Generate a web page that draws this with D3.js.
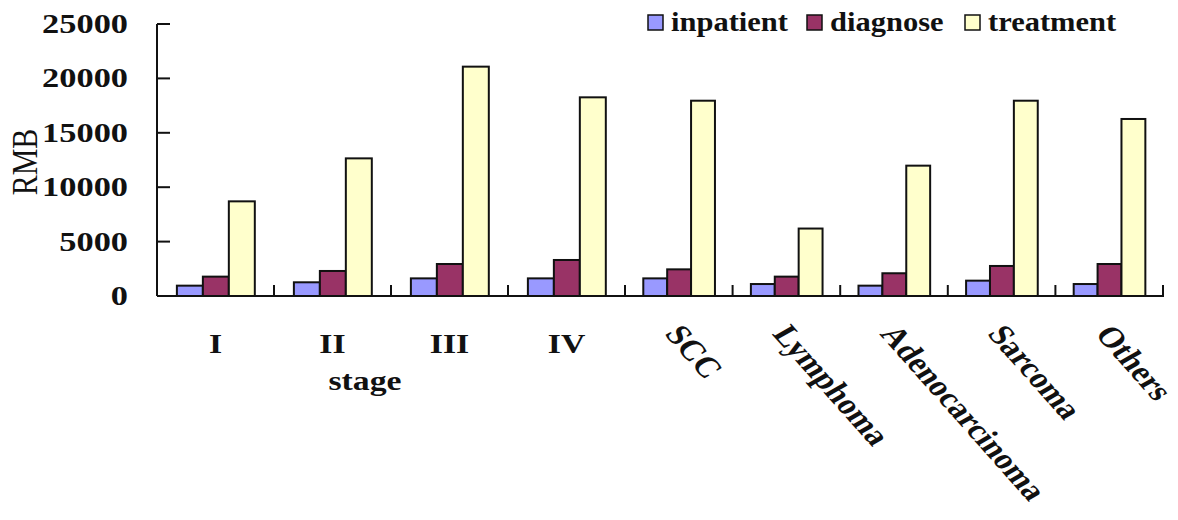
<!DOCTYPE html>
<html>
<head>
<meta charset="utf-8">
<script src="https://cdn.jsdelivr.net/npm/d3@7"></script>
<style>
html,body{margin:0;padding:0;background:#fff;}
svg{display:block;}
text{font-family:"Liberation Serif","Times New Roman",serif;fill:#111;}
</style>
</head>
<body>
<svg id="chart" width="1178" height="520"></svg>
<script>
const categories = ["I","II","III","IV","SCC","Lymphoma","Adenocarcinoma","Sarcoma","Others"];
const seriesNames = ["inpatient","diagnose","treatment"];
const inpatient = [950,1260,1620,1620,1620,1100,950,1410,1100];
const diagnose  = [1780,2300,2940,3310,2450,1780,2090,2760,2940];
const treatment = [8700,12650,21080,18260,17950,6200,11980,17950,16270];
const yTicks = [0,5000,10000,15000,20000,25000];
const colors = ["#9999FF","#993366","#FFFFCC"];
const series = [inpatient, diagnose, treatment];

const svg = d3.select("#chart");
const SX = 1.25; // horizontal stretch of the original picture

// category boundary scale (piecewise, matching the reference's uneven spacing)
const xb = d3.scaleLinear().domain([0,4,9]).range([157,625,1163]);
const y = d3.scaleLinear().domain([0,25000]).range([296,24]);

// bars
series.forEach((vals,j)=>{
  svg.append("g").selectAll("rect").data(vals).join("rect")
    .attr("x",(d,i)=>{const w=xb(i+1)-xb(i);return xb(i)+w*0.17+j*w*0.222;})
    .attr("width",(d,i)=>(xb(i+1)-xb(i))*0.222)
    .attr("y",d=>y(d))
    .attr("height",d=>y(0)-y(d))
    .attr("fill",colors[j])
    .attr("stroke","#111")
    .attr("stroke-width",2);
});

// y axis
const ay = svg.append("g");
ay.append("line").attr("x1",157).attr("x2",157).attr("y1",y(25000)).attr("y2",y(0))
  .attr("stroke","#111").attr("stroke-width",2);
ay.selectAll("line.t").data(yTicks).join("line").attr("class","t")
  .attr("x1",157).attr("x2",170).attr("y1",d=>y(d)).attr("y2",d=>y(d))
  .attr("stroke","#111").attr("stroke-width",2);
ay.selectAll("text").data(yTicks).join("text")
  .attr("transform",d=>`translate(128,${y(d)+9}) scale(${SX},1)`)
  .attr("text-anchor","end")
  .style("font-size","27.5px").style("font-weight","bold")
  .text(d=>d);

// y title
svg.append("text")
  .attr("transform","translate(37,162) scale(1.2,1) rotate(-90)")
  .attr("text-anchor","middle")
  .style("font-size","30px")
  .text("RMB");

// x axis
const ax = svg.append("g");
ax.append("line").attr("x1",157).attr("x2",1164).attr("y1",y(0)).attr("y2",y(0))
  .attr("stroke","#111").attr("stroke-width",2);
ax.selectAll("line.t").data(d3.range(1,10)).join("line").attr("class","t")
  .attr("x1",d=>xb(d)).attr("x2",d=>xb(d)).attr("y1",y(0)).attr("y2",y(0)-11)
  .attr("stroke","#111").attr("stroke-width",2);

// x labels: stages horizontal, others rotated
categories.forEach((c,i)=>{
  const cx = (xb(i)+xb(i+1))/2;
  if(i<4){
    svg.append("text")
      .attr("transform",`translate(${cx},353) scale(${SX},1)`)
      .attr("text-anchor","middle")
      .style("font-size","27px").style("font-weight","bold")
      .text(c);
  } else {
    svg.append("text")
      .attr("transform",`translate(${cx-15},334) scale(${SX},1) rotate(54.5)`)
      .attr("text-anchor","start")
      .style("font-size","28.5px").style("font-weight","bold")
      .text(c);
  }
});
svg.append("text")
  .attr("transform",`translate(365,390) scale(${SX},1)`)
  .attr("text-anchor","middle")
  .style("font-size","27px").style("font-weight","bold")
  .text("stage");

// legend
const legX = [648,807,965];
seriesNames.forEach((n,j)=>{
  svg.append("rect").attr("x",legX[j]).attr("y",15).attr("width",15).attr("height",15)
    .attr("fill",colors[j]).attr("stroke","#111").attr("stroke-width",1.5);
  svg.append("text")
    .attr("transform",`translate(${legX[j]+23},31) scale(1.13,1)`)
    .style("font-size","27px").style("font-weight","bold")
    .text(n);
});
</script>
</body>
</html>
